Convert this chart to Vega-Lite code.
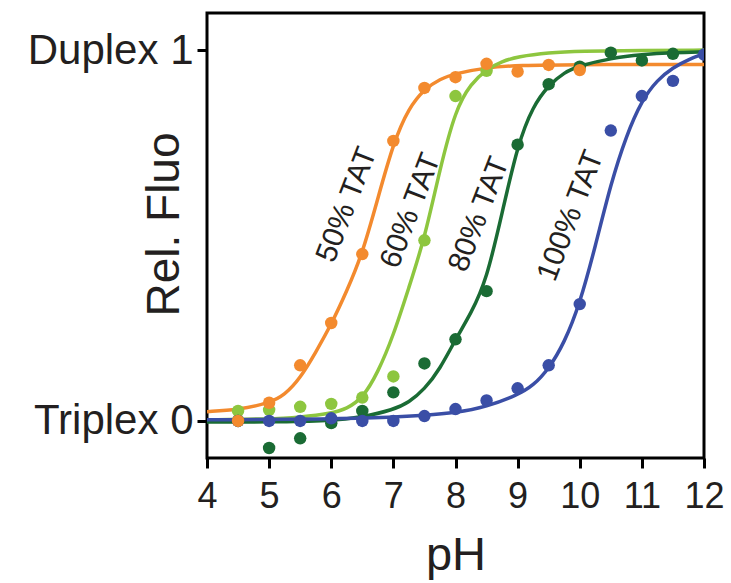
{
  "$schema": "https://vega.github.io/schema/vega-lite/v6.json",
  "width": 497,
  "height": 445,
  "autosize": {"type": "none"},
  "padding": {"left": 207, "top": 13, "right": 27, "bottom": 125},
  "background": "white",
  "config": {
    "view": {"stroke": "black", "strokeWidth": 3},
    "font": "Liberation Sans"
  },
  "datasets": {
    "curves": [
      {"series": "50% TAT", "pH": 4, "v": 0.025},
      {"series": "50% TAT", "pH": 4.5, "v": 0.03},
      {"series": "50% TAT", "pH": 5, "v": 0.048},
      {"series": "50% TAT", "pH": 5.25, "v": 0.07},
      {"series": "50% TAT", "pH": 5.5, "v": 0.115},
      {"series": "50% TAT", "pH": 5.75, "v": 0.185},
      {"series": "50% TAT", "pH": 6, "v": 0.26},
      {"series": "50% TAT", "pH": 6.25, "v": 0.35},
      {"series": "50% TAT", "pH": 6.5, "v": 0.45},
      {"series": "50% TAT", "pH": 6.75, "v": 0.6},
      {"series": "50% TAT", "pH": 7, "v": 0.75},
      {"series": "50% TAT", "pH": 7.25, "v": 0.845},
      {"series": "50% TAT", "pH": 7.5, "v": 0.895},
      {"series": "50% TAT", "pH": 7.75, "v": 0.922},
      {"series": "50% TAT", "pH": 8, "v": 0.937},
      {"series": "50% TAT", "pH": 8.5, "v": 0.953},
      {"series": "50% TAT", "pH": 9, "v": 0.959},
      {"series": "50% TAT", "pH": 10, "v": 0.961},
      {"series": "50% TAT", "pH": 11, "v": 0.961},
      {"series": "50% TAT", "pH": 12, "v": 0.961},
      {"series": "60% TAT", "pH": 4, "v": 0.003},
      {"series": "60% TAT", "pH": 5, "v": 0.005},
      {"series": "60% TAT", "pH": 5.5, "v": 0.01},
      {"series": "60% TAT", "pH": 6, "v": 0.02},
      {"series": "60% TAT", "pH": 6.25, "v": 0.033},
      {"series": "60% TAT", "pH": 6.5, "v": 0.06},
      {"series": "60% TAT", "pH": 6.75, "v": 0.13},
      {"series": "60% TAT", "pH": 7, "v": 0.23},
      {"series": "60% TAT", "pH": 7.25, "v": 0.36},
      {"series": "60% TAT", "pH": 7.5, "v": 0.49},
      {"series": "60% TAT", "pH": 7.75, "v": 0.68},
      {"series": "60% TAT", "pH": 8, "v": 0.84},
      {"series": "60% TAT", "pH": 8.25, "v": 0.91},
      {"series": "60% TAT", "pH": 8.5, "v": 0.948},
      {"series": "60% TAT", "pH": 8.75, "v": 0.97},
      {"series": "60% TAT", "pH": 9, "v": 0.982},
      {"series": "60% TAT", "pH": 9.5, "v": 0.993},
      {"series": "60% TAT", "pH": 10, "v": 0.997},
      {"series": "60% TAT", "pH": 11, "v": 0.999},
      {"series": "60% TAT", "pH": 12, "v": 1.0},
      {"series": "80% TAT", "pH": 4, "v": -0.003},
      {"series": "80% TAT", "pH": 5, "v": -0.003},
      {"series": "80% TAT", "pH": 6, "v": 0.0},
      {"series": "80% TAT", "pH": 6.5, "v": 0.01},
      {"series": "80% TAT", "pH": 7, "v": 0.03},
      {"series": "80% TAT", "pH": 7.25, "v": 0.05},
      {"series": "80% TAT", "pH": 7.5, "v": 0.085},
      {"series": "80% TAT", "pH": 7.75, "v": 0.14},
      {"series": "80% TAT", "pH": 8, "v": 0.22},
      {"series": "80% TAT", "pH": 8.25, "v": 0.29},
      {"series": "80% TAT", "pH": 8.5, "v": 0.38},
      {"series": "80% TAT", "pH": 8.75, "v": 0.56},
      {"series": "80% TAT", "pH": 9, "v": 0.745},
      {"series": "80% TAT", "pH": 9.25, "v": 0.85},
      {"series": "80% TAT", "pH": 9.5, "v": 0.905},
      {"series": "80% TAT", "pH": 9.75, "v": 0.94},
      {"series": "80% TAT", "pH": 10, "v": 0.958},
      {"series": "80% TAT", "pH": 10.5, "v": 0.978},
      {"series": "80% TAT", "pH": 11, "v": 0.988},
      {"series": "80% TAT", "pH": 11.5, "v": 0.993},
      {"series": "80% TAT", "pH": 12, "v": 0.995},
      {"series": "100% TAT", "pH": 4, "v": 0.003},
      {"series": "100% TAT", "pH": 6, "v": 0.005},
      {"series": "100% TAT", "pH": 7, "v": 0.01},
      {"series": "100% TAT", "pH": 7.5, "v": 0.015},
      {"series": "100% TAT", "pH": 8, "v": 0.022},
      {"series": "100% TAT", "pH": 8.5, "v": 0.038},
      {"series": "100% TAT", "pH": 9, "v": 0.07},
      {"series": "100% TAT", "pH": 9.25, "v": 0.095},
      {"series": "100% TAT", "pH": 9.5, "v": 0.14},
      {"series": "100% TAT", "pH": 9.75, "v": 0.21},
      {"series": "100% TAT", "pH": 10, "v": 0.315},
      {"series": "100% TAT", "pH": 10.25, "v": 0.47},
      {"series": "100% TAT", "pH": 10.5, "v": 0.64},
      {"series": "100% TAT", "pH": 10.75, "v": 0.77},
      {"series": "100% TAT", "pH": 11, "v": 0.865},
      {"series": "100% TAT", "pH": 11.25, "v": 0.92},
      {"series": "100% TAT", "pH": 11.5, "v": 0.953},
      {"series": "100% TAT", "pH": 11.75, "v": 0.975},
      {"series": "100% TAT", "pH": 12, "v": 0.99}
    ],
    "points": [
      {"series": "60% TAT", "pH": 4.5, "v": 0.027},
      {"series": "60% TAT", "pH": 5, "v": 0.03},
      {"series": "60% TAT", "pH": 5.5, "v": 0.038},
      {"series": "60% TAT", "pH": 6, "v": 0.046},
      {"series": "60% TAT", "pH": 6.5, "v": 0.063},
      {"series": "60% TAT", "pH": 7, "v": 0.12},
      {"series": "60% TAT", "pH": 7.5, "v": 0.487},
      {"series": "60% TAT", "pH": 8, "v": 0.876},
      {"series": "60% TAT", "pH": 8.5, "v": 0.944},
      {"series": "80% TAT", "pH": 4.5, "v": 0.0},
      {"series": "80% TAT", "pH": 5, "v": -0.073},
      {"series": "80% TAT", "pH": 5.5, "v": -0.047},
      {"series": "80% TAT", "pH": 6, "v": -0.006},
      {"series": "80% TAT", "pH": 6.5, "v": 0.027},
      {"series": "80% TAT", "pH": 7, "v": 0.077},
      {"series": "80% TAT", "pH": 7.5, "v": 0.155},
      {"series": "80% TAT", "pH": 8, "v": 0.22},
      {"series": "80% TAT", "pH": 8.5, "v": 0.35},
      {"series": "80% TAT", "pH": 9, "v": 0.745},
      {"series": "80% TAT", "pH": 9.5, "v": 0.908},
      {"series": "80% TAT", "pH": 10, "v": 0.955},
      {"series": "80% TAT", "pH": 10.5, "v": 0.993},
      {"series": "80% TAT", "pH": 11, "v": 0.972},
      {"series": "80% TAT", "pH": 11.5, "v": 0.99},
      {"series": "100% TAT", "pH": 4.5, "v": 0.0},
      {"series": "100% TAT", "pH": 5, "v": 0.0},
      {"series": "100% TAT", "pH": 5.5, "v": 0.0},
      {"series": "100% TAT", "pH": 6, "v": 0.007},
      {"series": "100% TAT", "pH": 6.5, "v": 0.0},
      {"series": "100% TAT", "pH": 7, "v": 0.0},
      {"series": "100% TAT", "pH": 7.5, "v": 0.013},
      {"series": "100% TAT", "pH": 8, "v": 0.032},
      {"series": "100% TAT", "pH": 8.5, "v": 0.055},
      {"series": "100% TAT", "pH": 9, "v": 0.088},
      {"series": "100% TAT", "pH": 9.5, "v": 0.15},
      {"series": "100% TAT", "pH": 10, "v": 0.315},
      {"series": "100% TAT", "pH": 10.5, "v": 0.783},
      {"series": "100% TAT", "pH": 11, "v": 0.876},
      {"series": "100% TAT", "pH": 11.5, "v": 0.917},
      {"series": "100% TAT", "pH": 12, "v": 0.988},
      {"series": "50% TAT", "pH": 4.5, "v": 0.0},
      {"series": "50% TAT", "pH": 5, "v": 0.049},
      {"series": "50% TAT", "pH": 5.5, "v": 0.15},
      {"series": "50% TAT", "pH": 6, "v": 0.264},
      {"series": "50% TAT", "pH": 6.5, "v": 0.45},
      {"series": "50% TAT", "pH": 7, "v": 0.755},
      {"series": "50% TAT", "pH": 7.5, "v": 0.898},
      {"series": "50% TAT", "pH": 8, "v": 0.927},
      {"series": "50% TAT", "pH": 8.5, "v": 0.963},
      {"series": "50% TAT", "pH": 9, "v": 0.942},
      {"series": "50% TAT", "pH": 9.5, "v": 0.96},
      {"series": "50% TAT", "pH": 10, "v": 0.946}
    ],
    "labels": [
      {"label": "50% TAT", "pH": 6.25, "v": 0.583},
      {"label": "60% TAT", "pH": 7.28, "v": 0.567},
      {"label": "80% TAT", "pH": 8.38, "v": 0.557},
      {"label": "100% TAT", "pH": 9.855, "v": 0.553}
    ]
  },
  "layer": [
    {
      "data": {"name": "curves"},
      "mark": {"type": "line", "strokeWidth": 3.5, "clip": true, "interpolate": "basis"},
      "encoding": {
        "x": {
          "field": "pH", "type": "quantitative",
          "scale": {"domain": [4, 12], "nice": false, "zero": false},
          "axis": {
            "values": [4, 5, 6, 7, 8, 9, 10, 11, 12],
            "format": "d",
            "domain": false, "grid": false,
            "tickSize": 10, "tickWidth": 3, "tickColor": "black",
            "labelFontSize": 36, "labelColor": "#231f20", "labelPadding": 11,
            "labelFlush": false, "labelOverlap": false,
            "title": "pH", "titleFontSize": 47, "titleFontWeight": "normal",
            "titleColor": "#231f20", "titleBaseline": "alphabetic", "titleY": 111
          }
        },
        "y": {
          "field": "v", "type": "quantitative",
          "scale": {"domain": [-0.1, 1.1], "nice": false, "zero": false},
          "axis": {
            "values": [0, 1],
            "labelExpr": "datum.value == 1 ? 'Duplex 1' : 'Triplex 0'",
            "domain": false, "grid": false,
            "tickSize": 10, "tickWidth": 3, "tickColor": "black",
            "labelFontSize": 42, "labelColor": "#231f20", "labelPadding": 4,
            "labelFlush": false, "labelOverlap": false,
            "title": "Rel. Fluo", "titleFontSize": 46, "titleFontWeight": "normal",
            "titleColor": "#231f20", "titleBaseline": "alphabetic",
            "titleAngle": 270, "titleAlign": "center", "titleX": -29, "titleY": 211
          }
        },
        "color": {
          "field": "series", "type": "nominal",
          "scale": {
            "domain": ["50% TAT", "60% TAT", "80% TAT", "100% TAT"],
            "range": ["#F38A2E", "#8DC63F", "#1A6B34", "#3A4EA6"]
          },
          "legend": null
        }
      }
    },
    {
      "data": {"name": "points"},
      "mark": {"type": "circle", "size": 155, "opacity": 1, "clip": true},
      "encoding": {
        "x": {"field": "pH", "type": "quantitative"},
        "y": {"field": "v", "type": "quantitative"},
        "color": {"field": "series", "type": "nominal", "legend": null}
      }
    },
    {
      "data": {"name": "labels"},
      "mark": {"type": "text", "angle": 291, "fontSize": 30, "align": "center", "baseline": "middle", "color": "#231f20", "font": "Liberation Sans"},
      "encoding": {
        "x": {"field": "pH", "type": "quantitative"},
        "y": {"field": "v", "type": "quantitative"},
        "text": {"field": "label", "type": "nominal"}
      }
    }
  ]
}
